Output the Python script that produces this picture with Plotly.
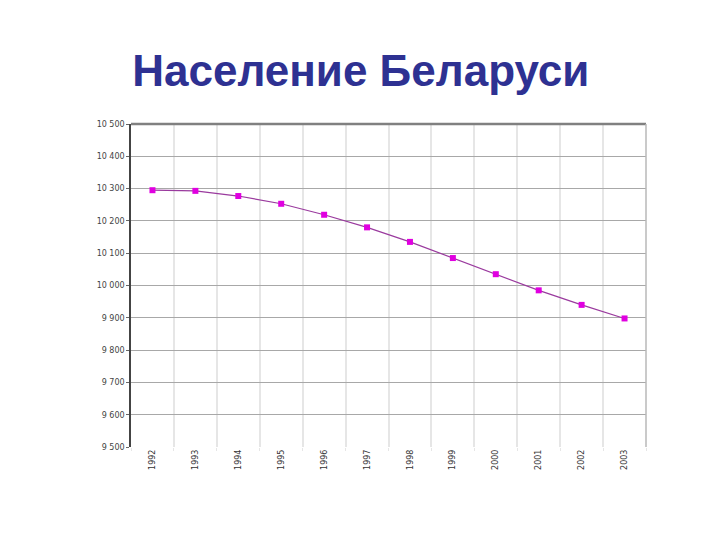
import plotly.graph_objects as go

years = ["1992", "1993", "1994", "1995", "1996", "1997", "1998", "1999", "2000", "2001", "2002", "2003"]
population = [10295, 10293, 10277, 10253, 10219, 10180, 10135, 10085, 10035, 9985, 9940, 9898]
y_ticks = [9500, 9600, 9700, 9800, 9900, 10000, 10100, 10200, 10300, 10400, 10500]
title_text = "Население Беларуси"

fig = go.Figure()
fig.add_trace(go.Scatter(
    x=years, y=population, mode="lines+markers",
    line=dict(color="#9a3a9e", width=1.2),
    marker=dict(symbol="square", size=6, color="#e000e0"),
    showlegend=False,
))

fig.update_layout(
    width=720, height=540,
    margin=dict(l=123, r=82, t=116, b=101),
    paper_bgcolor="white", plot_bgcolor="white",
    separators=". ",
    title=dict(text="<b>" + title_text + "</b>", x=0.49, xanchor="center", y=0.885, yanchor="middle",
               font=dict(family="Liberation Sans, Arial", size=44, color="#2e3192")),
    xaxis=dict(type="category", range=[-0.5, 11.5], tickson="boundaries",
               showgrid=True, gridcolor="#e6e6e6", gridwidth=1.5,
               tickangle=-90, tickfont=dict(family="DejaVu Sans", size=8, color="#333"),
               ticks="outside", ticklen=3, tickcolor="#e6e6e6",
               showline=False, zeroline=False),
    yaxis=dict(range=[9500, 10500], tickvals=y_ticks, tickformat=",d",
               showgrid=True, gridcolor="#a8a8a8", gridwidth=1,
               tickfont=dict(family="DejaVu Sans", size=8, color="#444"),
               ticks="outside", ticklen=3, tickcolor="#666",
               showline=True, linecolor="#444", linewidth=1.5, zeroline=False),
)

fig.add_shape(type="line", xref="paper", yref="paper", x0=0, x1=1, y0=1, y1=1,
              line=dict(color="#808080", width=2.5))
fig.add_shape(type="line", xref="paper", yref="paper", x0=1, x1=1, y0=0, y1=1,
              line=dict(color="#b8b8b8", width=1.5))

fig.write_html("out.html")
